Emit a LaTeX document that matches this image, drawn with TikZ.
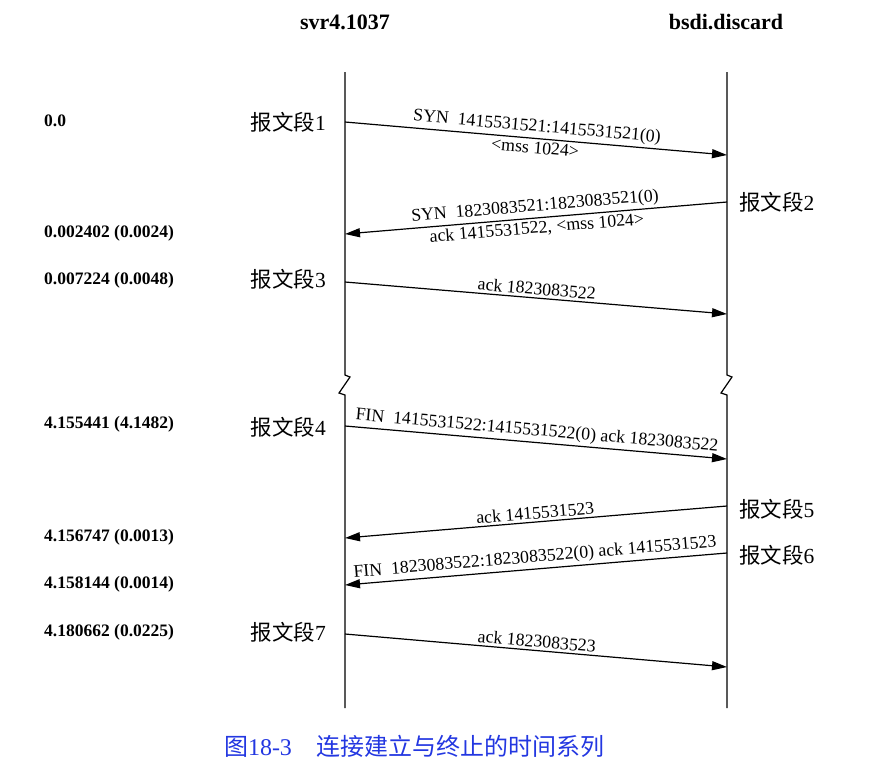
\documentclass[tikz,border=0pt]{standalone}
\usepackage{fontspec}
\setmainfont{Liberation Serif}
\newfontfamily\cjk{Noto Sans CJK SC}
\usepackage{tikz}
\usetikzlibrary{positioning}
\usetikzlibrary{arrows.meta}
\definecolor{capblue}{RGB}{35,55,225}

\begin{document}
\begin{tikzpicture}[x=1pt,y=-1pt,
    life/.style={line width=1.2pt},
    msg/.style={line width=1.2pt,-{Triangle[length=15pt,width=9pt]}},
    lab/.style={font=\fontsize{17.8}{18}\selectfont,sloped,inner sep=2.5pt},
    hdr/.style={font=\fontsize{22}{22}\selectfont\bfseries},
    seg/.style={font=\fontsize{21.5}{22}\selectfont,inner sep=0pt},
    stamp/.style={font=\fontsize{17.5}{18}\selectfont\bfseries,anchor=west,inner sep=0pt}]
    \useasboundingbox (0,0) rectangle (869,771);
    % hosts
    \node[hdr] (svr) at (345,22) {svr4.1037};
    \node[hdr] (bsdi) at (726,22) {bsdi.discard};
    % lifelines with the break
    \foreach \x/\n in {345/l,727/r} {
        \coordinate (\n top) at (\x,72);
        \coordinate (\n bot) at (\x,708);
        \draw[life] (\n top) -- (\x,375) -- (\x+5,377) -- (\x-6,393) -- (\x,395) -- (\n bot);
    }
    % ends of the segments
    \coordinate (a1) at (345,122); \coordinate (b1) at (727,155);
    \coordinate (b2) at (727,202); \coordinate (a2) at (345,234);
    \coordinate (a3) at (345,282); \coordinate (b3) at (727,314);
    \coordinate (a4) at (345,426); \coordinate (b4) at (727,459);
    \coordinate (b5) at (727,506); \coordinate (a5) at (345,538);
    \coordinate (b6) at (727,553); \coordinate (a6) at (345,585);
    \coordinate (a7) at (345,634); \coordinate (b7) at (727,667);
    %Segments
    \draw[msg] (a1) -- (b1)
        node[lab,midway,above] {SYN\ \ 1415531521:1415531521(0)}
        node[lab,midway,below] {<mss 1024>};
    \draw[msg] (b2) -- (a2)
        node[lab,midway,above] {SYN\ \ 1823083521:1823083521(0)}
        node[lab,midway,below] {ack 1415531522, <mss 1024>};
    \draw[msg] (a3) -- (b3) node[lab,midway,above] {ack 1823083522};
    \draw[msg] (a4) -- (b4) node[lab,midway,above] {FIN\ \ 1415531522:1415531522(0) ack 1823083522};
    \draw[msg] (b5) -- (a5) node[lab,midway,above] {ack 1415531523};
    \draw[msg] (b6) -- (a6) node[lab,midway,above] {FIN\ \ 1823083522:1823083522(0) ack 1415531523};
    \draw[msg] (a7) -- (b7) node[lab,midway,above] {ack 1823083523};
    % segment names
    \foreach \n/\y in {1/122,3/279,4/427,7/632}
        \node[seg,anchor=east] (seg\n) at (326,\y) {{\cjk 报文段}\n};
    \foreach \n/\y in {2/202,5/509,6/555}
        \node[seg,anchor=west] (seg\n) at (739,\y) {{\cjk 报文段}\n};
    % times
    \foreach \t/\y [count=\i] in {{0.0}/121,{0.002402 (0.0024)}/233,{0.007224 (0.0048)}/280,
            {4.155441 (4.1482)}/424,{4.156747 (0.0013)}/537,{4.158144 (0.0014)}/584,{4.180662 (0.0225)}/632}
        \node[stamp] (t\i) at (44,\y) {\t};
    % caption
    \node[font=\cjk\fontsize{24}{24}\selectfont,text=capblue] (cap) at (414,746)
        {图{\rmfamily 18-3}\quad 连接建立与终止的时间系列};
\end{tikzpicture}
\end{document}
